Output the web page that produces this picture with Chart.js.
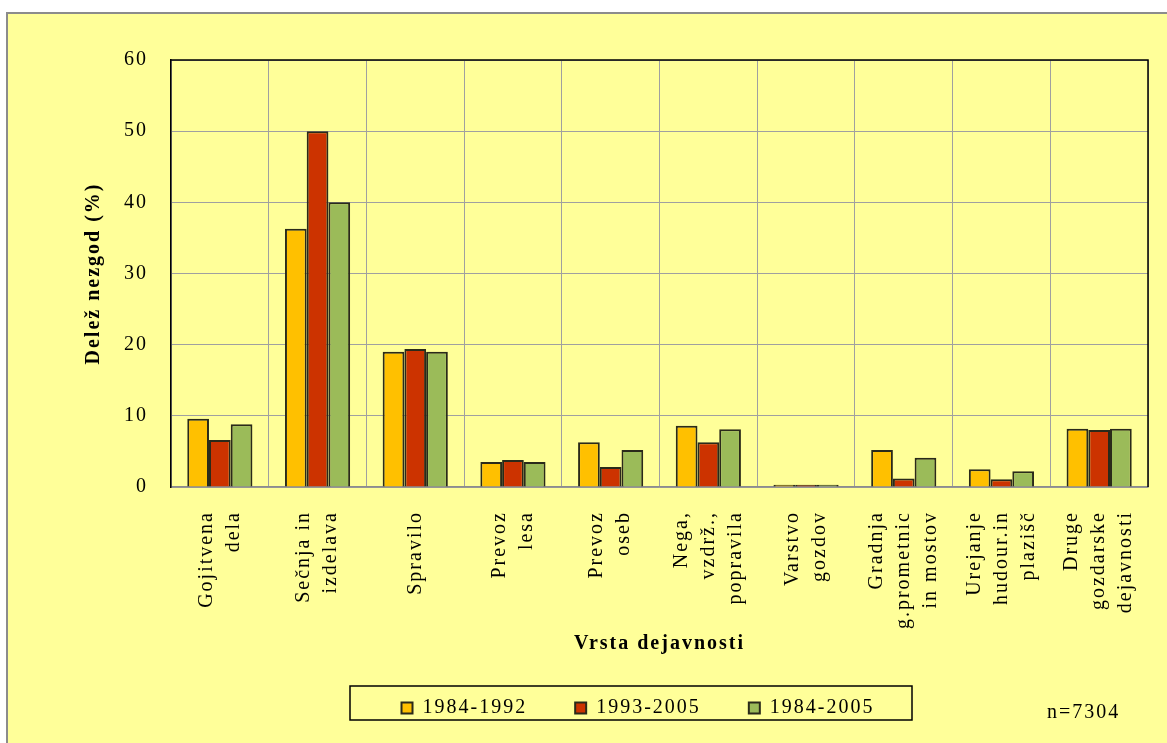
<!DOCTYPE html>
<html>
<head>
<meta charset="utf-8">
<script src="https://cdn.jsdelivr.net/npm/chart.js@4.4.0/dist/chart.umd.min.js"></script>
<style>
    html, body { margin: 0; padding: 0; background: #fff; width: 1167px; height: 743px; overflow: hidden; }
    #frame { position: absolute; left: 6px; top: 12px; width: 1200px; height: 800px; background: #ffff99; border-left: 2px solid #8c8c8c; border-top: 2px solid #8c8c8c; }
    #wrap { position: absolute; left: 9px; top: 14px; width: 1158px; height: 729px; }
</style>
</head>
<body>
<div id="frame"></div>
<div id="wrap"><canvas id="chart" width="1158" height="729"></canvas></div>
<script>
const categories = [
    ['Gojitvena', 'dela'],
    ['Sečnja in', 'izdelava'],
    ['Spravilo'],
    ['Prevoz', 'lesa'],
    ['Prevoz', 'oseb'],
    ['Nega,', 'vzdrž.,', 'popravila'],
    ['Varstvo', 'gozdov'],
    ['Gradnja', 'g.prometnic', 'in mostov'],
    ['Urejanje', 'hudour.in', 'plazišč'],
    ['Druge', 'gozdarske', 'dejavnosti']
];
const period1 = [9.6, 36.3, 19.0, 3.5, 6.3, 8.6, 0.3, 5.2, 2.5, 8.2];
const period2 = [6.6, 50.0, 19.4, 3.8, 2.8, 6.3, 0.3, 1.2, 1.1, 8.0];
const periodAll = [8.8, 40.0, 19.0, 3.5, 5.2, 8.1, 0.3, 4.1, 2.2, 8.2];
const seriesNames = ['1984-1992', '1993-2005', '1984-2005'];
const yMin = 0, yMax = 60, yStep = 10;
const sampleNote = 'n=7304';

const FONT = "'Liberation Serif', 'Times New Roman', serif";
Chart.defaults.font.family = FONT;
Chart.defaults.font.size = 20;
Chart.defaults.color = '#000';

// Word-style wide letter spacing on every text
const spacing = {
    id: 'spacing',
    beforeUpdate(chart) { chart.ctx.letterSpacing = '2px'; },
    beforeDraw(chart) { chart.ctx.letterSpacing = '2px'; }
};

// center multi-line rotated labels on their category
const centerLabels = {
    id: 'centerLabels',
    beforeDraw(chart) {
        const items = chart.scales.x.getLabelItems(chart.chartArea);
        items.forEach(it => {
            if (it._centered) return;
            const n = Array.isArray(it.label) ? it.label.length : 1;
            it.textOffset -= (n - 1) * it.font.lineHeight / 2;
            it._centered = true;
        });
    }
};

const frame = {
    id: 'frame',
    afterLayout(chart) {
        // legend sits a little right of centre, inside its own box
        const lg = chart.legend;
        lg.left += 29;
        lg.right += 29;
        lg.top = 636;
        lg.bottom = 729;
    },
    afterDraw(chart) {
        const { ctx, chartArea: a, legend: lg } = chart;
        const cx = (lg.left + lg.right) / 2;
        const cy = lg.top + 53;
        ctx.save();
        ctx.strokeStyle = '#000';
        ctx.lineWidth = 1.5;
        ctx.strokeRect(cx - 288, cy - 17, 562, 34);
        ctx.beginPath();
        ctx.moveTo(a.left, a.top);
        ctx.lineTo(a.right, a.top);
        ctx.lineTo(a.right, a.bottom);
        ctx.stroke();
        ctx.fillStyle = '#000';
        ctx.font = '20px ' + FONT;
        ctx.letterSpacing = '2px';
        ctx.textAlign = 'left';
        ctx.textBaseline = 'middle';
        ctx.fillText(sampleNote, a.right - 101, cy + 10);
        ctx.restore();
    }
};

const colors = ['#ffc000', '#cc3300', '#9bbb59'];
const values = [period1, period2, periodAll];

new Chart(document.getElementById('chart'), {
    type: 'bar',
    data: {
        labels: categories,
        datasets: values.map((data, i) => ({
            label: seriesNames[i],
            data,
            backgroundColor: colors[i],
            borderColor: '#2a2a1a',
            borderWidth: 2,
            categoryPercentage: 0.667,
            barPercentage: 1.0
        }))
    },
    options: {
        responsive: false,
        animation: false,
        layout: { padding: { left: 61, right: 19, top: 46, bottom: 20 } },
        plugins: {
            tooltip: { enabled: false },
            legend: {
                position: 'bottom',
                maxHeight: 40,
                labels: { boxWidth: 11, boxHeight: 11, padding: 48, font: { size: 20 } }
            }
        },
        scales: {
            x: {
                grid: { color: '#a0a0a0', lineWidth: 1, drawTicks: false },
                border: { color: '#8c8c8c', width: 1.5 },
                ticks: { minRotation: 90, maxRotation: 90, autoSkip: false, padding: 24, font: { size: 20, lineHeight: 1.35 } },
                title: { display: true, text: 'Vrsta dejavnosti', font: { size: 20, weight: 'bold' }, padding: { top: 0, bottom: 27 } },
                afterFit(scale) {
                    scale.height = 196;
                    scale.paddingLeft = 0;
                    scale.paddingRight = 0;
                }
            },
            y: {
                min: yMin,
                max: yMax,
                grid: { color: '#a0a0a0', lineWidth: 1, drawTicks: false },
                border: { color: '#000', width: 1.5 },
                ticks: { stepSize: yStep, padding: 23, font: { size: 20 } },
                title: { display: true, text: 'Delež nezgod (%)', font: { size: 20, weight: 'bold' }, padding: { top: 12, bottom: 0 } },
                afterFit(scale) {
                    scale.width = 101;
                    scale.paddingTop = 0;
                    scale.paddingBottom = 0;
                }
            }
        }
    },
    plugins: [spacing, centerLabels, frame]
});
</script>
</body>
</html>
